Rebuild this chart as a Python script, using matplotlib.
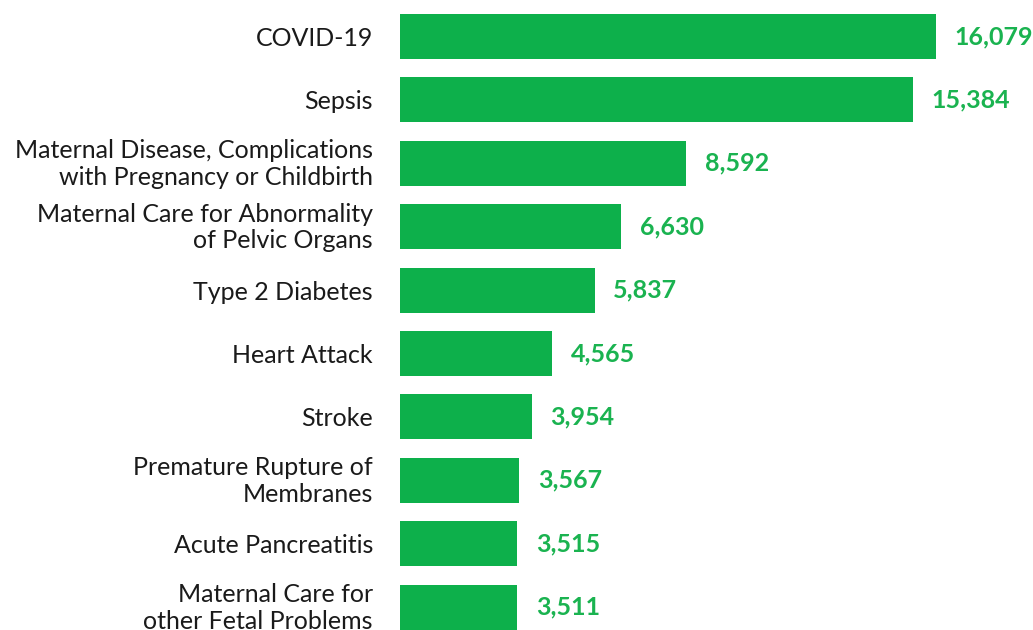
import matplotlib.pyplot as plt
from matplotlib.transforms import ScaledTranslation

categories = [
    "COVID-19",
    "Sepsis",
    "Maternal Disease, Complications\nwith Pregnancy or Childbirth",
    "Maternal Care for Abnormality\nof Pelvic Organs",
    "Type 2 Diabetes",
    "Heart Attack",
    "Stroke",
    "Premature Rupture of\nMembranes",
    "Acute Pancreatitis",
    "Maternal Care for\nother Fetal Problems",
]
values = [16079, 15384, 8592, 6630, 5837, 4565, 3954, 3567, 3515, 3511]

bar_color = "#0db04b"
label_color = "#1ab350"

plt.rcParams['font.family'] = ['Lato', 'DejaVu Sans']

fig = plt.figure(figsize=(10.33, 6.3), dpi=100)
ax = fig.add_axes([400 / 1033, 0, 633 / 1033, 1])

pos = list(range(len(values)))
ax.barh(pos, values, height=0.71, color=bar_color)
ax.set_xlim(0, 16079 * 633 / 536)
ax.set_ylim(9.36, -0.575)

for p, v in zip(pos, values):
    ax.annotate(f"{v:,}", (v, p), xytext=(13.5, 0), textcoords="offset points",
                va="center", ha="left", fontsize=18, fontweight="bold",
                color=label_color)

ax.set_yticks(pos)
ax.set_yticklabels(categories, fontsize=18, color="#1a1a1a", linespacing=1.2)
ax.tick_params(axis="y", length=0, pad=19.5)
ax.set_xticks([])
for s in ax.spines.values():
    s.set_visible(False)

# nudge two-line labels up a little
shift = ScaledTranslation(0, 3 / 100, fig.dpi_scale_trans)
for lbl in ax.get_yticklabels():
    if "\n" in lbl.get_text():
        lbl.set_transform(lbl.get_transform() + shift)

fig.savefig("out.png", dpi=100)
